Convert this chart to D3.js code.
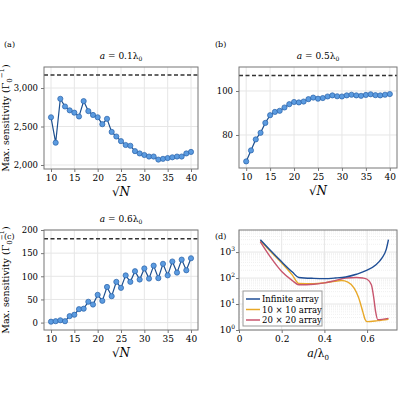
<!DOCTYPE html><html><head><meta charset="utf-8"><script src="https://cdn.jsdelivr.net/npm/d3@7"></script>
<style>body{margin:0;background:#fff}text{font-family:"DejaVu Serif","Liberation Serif",serif}</style></head><body><svg id="c" width="400" height="400"></svg>
<script>
const sqrtN=d3.range(10,41);
const valsA=[2620,2290,2860,2760,2710,2680,2630,2830,2700,2650,2620,2530,2600,2430,2370,2310,2260,2250,2180,2150,2130,2110,2110,2070,2080,2090,2100,2110,2110,2150,2170];
const valsB=[68,73,78,81,85.5,89,90.5,91,92.5,94,95,94.8,95.2,96.3,97,96.5,96.8,97.5,98,97.6,97.5,98,98.3,98,97.8,98.2,98.5,98.1,98,98.3,98.6];
const valsC=[2,3,5,3,14,17,29,30,45,39,60,47,77,57,88,75,102,88,111,93,117,95,123,96,127,102,132,108,136,113,139];
const limitA=3170, limitB=107, limitC=181;
const aInf=[0.1,0.15,0.2,0.25,0.28,0.35,0.4,0.45,0.5,0.55,0.6,0.64,0.67,0.69,0.7];
const sInf=[3000,1100,420,170,105,97,95,100,110,140,200,320,600,1300,3000];
const a10=[0.1,0.15,0.2,0.25,0.28,0.35,0.4,0.45,0.48,0.51,0.54,0.56,0.58,0.59,0.6,0.65,0.7];
const s10=[2800,1000,380,130,62,60,65,75,80,70,40,18,5,2.6,2.1,2.3,2.6];
const a20=[0.1,0.15,0.2,0.25,0.28,0.35,0.4,0.45,0.5,0.55,0.58,0.6,0.62,0.63,0.64,0.65,0.7];
const s20=[2500,600,180,80,55,58,65,80,100,105,100,90,55,20,5,2.5,2.8];
const svg=d3.select("#c");
const gridC="#e6e6e6", boxC="#777";
function box(g,x0,y0,w,h){g.append("rect").attr("x",x0).attr("y",y0).attr("width",w).attr("height",h).attr("fill","none").attr("stroke",boxC).attr("stroke-width",1);}
function panel(o){
 const g=svg.append("g");
 const x=d3.scaleLinear().domain([8.5,41.5]).range([o.x0,o.x1]);
 const y=d3.scaleLinear().domain(o.yd).range([o.y1,o.y0]);
 o.yt.forEach(t=>{g.append("line").attr("x1",o.x0).attr("x2",o.x1).attr("y1",y(t)).attr("y2",y(t)).attr("stroke",gridC);});
 [10,15,20,25,30,35,40].forEach(t=>{g.append("line").attr("x1",x(t)).attr("x2",x(t)).attr("y1",o.y0).attr("y2",o.y1).attr("stroke",gridC);});
 g.append("g").attr("transform",`translate(0,${o.y1})`).call(d3.axisBottom(x).tickValues([10,15,20,25,30,35,40]).tickSize(3)).call(s=>{s.select(".domain").remove();s.selectAll("text").attr("font-size",9).attr("font-family","DejaVu Serif");s.selectAll("line").attr("stroke",boxC);});
 g.append("g").attr("transform",`translate(${o.x0},0)`).call(d3.axisLeft(y).tickValues(o.yt).tickFormat(o.fmt).tickSize(3)).call(s=>{s.select(".domain").remove();s.selectAll("text").attr("font-size",8.5).attr("font-family","DejaVu Serif");s.selectAll("line").attr("stroke",boxC);});
 g.append("line").attr("x1",o.x0).attr("x2",o.x1).attr("y1",y(o.lim)).attr("y2",y(o.lim)).attr("stroke","#333").attr("stroke-width",1.5).attr("stroke-dasharray","4,2.5");
 g.append("path").datum(o.v).attr("d",d3.line().x((d,i)=>x(sqrtN[i])).y(d=>y(d))).attr("fill","none").attr("stroke","#1c4f8f").attr("stroke-width",1.2);
 g.selectAll("circle").data(o.v).join("circle").attr("cx",(d,i)=>x(sqrtN[i])).attr("cy",d=>y(d)).attr("r",2.6).attr("fill","#5b9be0").attr("stroke","#2a62a8").attr("stroke-width",0.7);
 box(g,o.x0,o.y0,o.x1-o.x0,o.y1-o.y0);
 g.append("text").attr("x",(o.x0+o.x1)/2).attr("y",o.y0-8).attr("text-anchor","middle").attr("font-size",9).html(o.title);
 g.append("text").attr("x",(o.x0+o.x1)/2).attr("y",o.y1+27).attr("text-anchor","middle").attr("font-size",12).html("√<tspan font-style='italic'>N</tspan>");
 if(o.ylab){g.append("text").attr("transform",`translate(9,${(o.y0+o.y1)/2}) rotate(-90)`).attr("text-anchor","middle").attr("font-size",9.5).attr("font-family","Liberation Serif").html("Max. sensitivity (Γ<tspan font-size='7' dy='3'>0</tspan><tspan font-size='7' dy='-8'>−1</tspan><tspan dy='5'>)</tspan>");}
}
const comma=d3.format(",");
panel({x0:44,x1:198,y0:67,y1:169,yd:[1948,3273],yt:[2000,2500,3000],fmt:comma,lim:limitA,v:valsA,title:"<tspan font-style='italic'>a</tspan> = 0.1λ<tspan font-size='6' dy='2'>0</tspan>",ylab:true});
panel({x0:239,x1:397,y0:67,y1:168,yd:[65,110.9],yt:[80,100],fmt:d3.format("d"),lim:limitB,v:valsB,title:"<tspan font-style='italic'>a</tspan> = 0.5λ<tspan font-size='6' dy='2'>0</tspan>"});
panel({x0:44,x1:198,y0:230,y1:330,yd:[-16,200],yt:[0,50,100,150,200],fmt:d3.format("d"),lim:limitC,v:valsC,title:"<tspan font-style='italic'>a</tspan> = 0.6λ<tspan font-size='6' dy='2'>0</tspan>",ylab:true});
(function(){
 const x0=239,x1=397,y0=230,y1=330;const g=svg.append("g");
 const x=d3.scaleLinear().domain([0,0.74]).range([x0,x1]);
 const y=d3.scaleLog().domain([1,Math.pow(10,3.85)]).range([y1,y0]);
 for(let e=0;e<4;e++)for(let m=1;m<10;m++){const v=m*Math.pow(10,e);if(v>y.domain()[1])continue;g.append("line").attr("x1",x0).attr("x2",x1).attr("y1",y(v)).attr("y2",y(v)).attr("stroke",m==1?gridC:"#f0f0f0").attr("stroke-dasharray",m==1?null:"1,1");}
 [0,0.2,0.4,0.6].forEach(t=>g.append("line").attr("x1",x(t)).attr("x2",x(t)).attr("y1",y0).attr("y2",y1).attr("stroke",gridC));
 g.append("g").attr("transform",`translate(0,${y1})`).call(d3.axisBottom(x).tickValues([0,0.2,0.4,0.6]).tickFormat(d=>d==0?"0":d3.format(".1f")(d)).tickSize(3)).call(s=>{s.select(".domain").remove();s.selectAll("text").attr("font-size",9).attr("font-family","DejaVu Serif");s.selectAll("line").attr("stroke",boxC);});
 const ya=g.append("g").attr("transform",`translate(${x0},0)`).call(d3.axisLeft(y).tickValues([1,10,100,1000]).tickFormat("").tickSize(3));
 ya.select(".domain").remove();ya.selectAll("line").attr("stroke",boxC);
 [0,1,2,3].forEach(e=>g.append("text").attr("x",x0-4).attr("y",y(Math.pow(10,e))+3).attr("text-anchor","end").attr("font-size",9).html(`10<tspan font-size='6' dy='-4'>${e}</tspan>`));
 const ln=d3.line().x(d=>x(d[0])).y(d=>y(d[1])).curve(d3.curveMonotoneX);
 const ser=[[a10,s10,"#e8a828","10 × 10 array"],[a20,s20,"#c8566e","20 × 20 array"],[aInf,sInf,"#1f4e96","Infinite array"]];
 ser.forEach(s=>g.append("path").datum(s[0].map((a,i)=>[a,s[1][i]])).attr("d",ln).attr("fill","none").attr("stroke",s[2]).attr("stroke-width",1.4));
 box(g,x0,y0,x1-x0,y1-y0);
 const lg=g.append("g");lg.append("rect").attr("x",243).attr("y",291).attr("width",79).attr("height",35).attr("fill","#fff").attr("stroke","#999");
 [ser[2],ser[0],ser[1]].forEach((s,i)=>{const yy=299+i*10.5;lg.append("line").attr("x1",246).attr("x2",260).attr("y1",yy).attr("y2",yy).attr("stroke",s[2]).attr("stroke-width",1.5);lg.append("text").attr("x",262).attr("y",yy+3).attr("font-size",8.5).attr("font-family","Liberation Serif").text(s[3]);});
 g.append("text").attr("x",(x0+x1)/2).attr("y",y1+27).attr("text-anchor","middle").attr("font-size",11).html("<tspan font-style='italic'>a</tspan>/λ<tspan font-size='7' dy='3'>0</tspan>");
})();
[["(a)",4,47],["(b)",215,47],["(c)",4,239],["(d)",215,239]].forEach(p=>svg.append("text").attr("x",p[1]).attr("y",p[2]).attr("font-size",8).text(p[0]));
</script></body></html>
